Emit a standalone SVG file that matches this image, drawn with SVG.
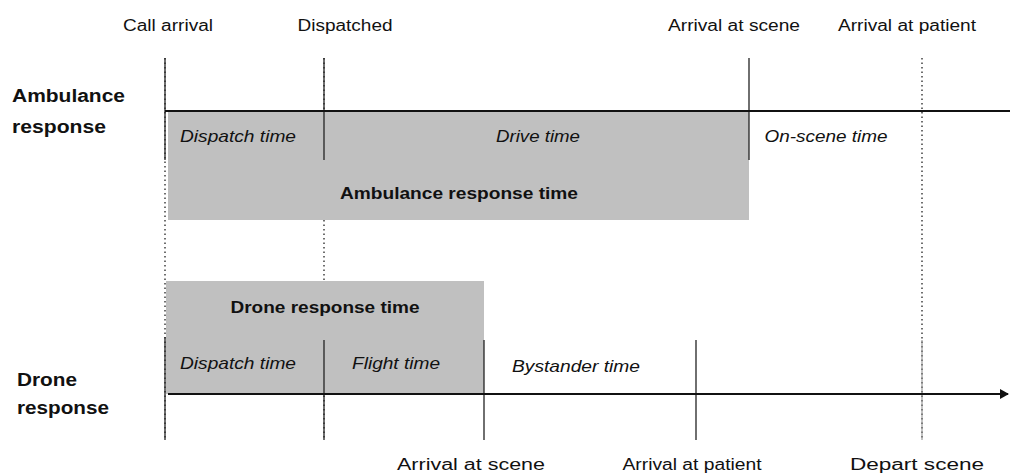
<svg xmlns="http://www.w3.org/2000/svg" width="1010" height="475" viewBox="0 0 1010 475">
<style>
.lbl{font-family:"Liberation Sans",Arial,sans-serif;font-size:16px;fill:#111}
.row{font-family:"Liberation Sans",Arial,sans-serif;font-size:18px;font-weight:bold;fill:#111}
.it{font-family:"Liberation Sans",Arial,sans-serif;font-size:17px;font-style:italic;fill:#111}
.bold{font-family:"Liberation Sans",Arial,sans-serif;font-size:17px;font-weight:bold;fill:#111}
.box{fill:#c0c0c0}
.solid{stroke:#222;stroke-width:1.3;fill:none}
.dot{stroke:#222;stroke-width:1.3;stroke-dasharray:1.5 3;fill:none}
.axis{stroke:#111;stroke-width:2;fill:none}
</style>
<defs>
<marker id="arr" markerWidth="9" markerHeight="10" refX="8" refY="5" orient="auto" markerUnits="userSpaceOnUse">
<path d="M0,0 L9,5 L0,10 z" fill="#111"/>
</marker>
</defs>
<rect width="1010" height="475" fill="#fff"/>
<g id="connectors">
<line class="dot" x1="165" y1="58" x2="165" y2="440"/>
<line class="dot" x1="324" y1="58" x2="324" y2="440"/>
<line class="dot" x1="922" y1="58" x2="922" y2="440"/>
</g>
<g id="ambulance-box"><rect class="box" x="168" y="112" width="581" height="108"/>
<text class="bold" x="459" y="199" text-anchor="middle" textLength="238" lengthAdjust="spacingAndGlyphs">Ambulance response time</text></g>
<g id="drone-box"><rect class="box" x="166" y="281" width="318" height="113"/>
<text class="bold" x="325" y="313" text-anchor="middle" textLength="189" lengthAdjust="spacingAndGlyphs">Drone response time</text></g>
<g id="lines">
<line class="solid" x1="165" y1="58" x2="165" y2="160"/>
<line class="solid" x1="324" y1="58" x2="324" y2="160"/>
<line class="solid" x1="749" y1="58" x2="749" y2="160"/>
<line class="solid" x1="165" y1="337" x2="165" y2="440"/>
<line class="solid" x1="324" y1="340" x2="324" y2="440"/>
<line class="solid" x1="484" y1="340" x2="484" y2="440"/>
<line class="solid" x1="696" y1="340" x2="696" y2="440"/>
<line x1="922" y1="340" x2="922" y2="440" stroke="#888" stroke-width="1"/>
<line class="axis" x1="165" y1="111" x2="1010" y2="111"/>
<line class="axis" x1="168" y1="394" x2="1008" y2="394" marker-end="url(#arr)"/>
</g>
<g id="top-labels">
<text class="lbl" x="168" y="31" text-anchor="middle" textLength="90" lengthAdjust="spacingAndGlyphs">Call arrival</text>
<text class="lbl" x="345" y="31" text-anchor="middle" textLength="95" lengthAdjust="spacingAndGlyphs">Dispatched</text>
<text class="lbl" x="734" y="31" text-anchor="middle" textLength="132" lengthAdjust="spacingAndGlyphs">Arrival at scene</text>
<text class="lbl" x="907" y="31" text-anchor="middle" textLength="138" lengthAdjust="spacingAndGlyphs">Arrival at patient</text>
</g>
<g id="bottom-labels">
<text class="lbl" x="471" y="470" text-anchor="middle" textLength="148" lengthAdjust="spacingAndGlyphs">Arrival at scene</text>
<text class="lbl" x="692" y="470" text-anchor="middle" textLength="139" lengthAdjust="spacingAndGlyphs">Arrival at patient</text>
<text class="lbl" x="917" y="470" text-anchor="middle" textLength="134" lengthAdjust="spacingAndGlyphs">Depart scene</text>
</g>
<g id="row-labels">
<text class="row" x="12" y="102" textLength="113" lengthAdjust="spacingAndGlyphs">Ambulance</text>
<text class="row" x="12" y="133" textLength="94" lengthAdjust="spacingAndGlyphs">response</text>
<text class="row" x="17" y="386" textLength="60" lengthAdjust="spacingAndGlyphs">Drone</text>
<text class="row" x="17" y="414" textLength="92" lengthAdjust="spacingAndGlyphs">response</text>
</g>
<g id="segments">
<text class="it" x="238" y="142" text-anchor="middle" textLength="116" lengthAdjust="spacingAndGlyphs">Dispatch time</text>
<text class="it" x="538" y="142" text-anchor="middle" textLength="84" lengthAdjust="spacingAndGlyphs">Drive time</text>
<text class="it" x="826" y="142" text-anchor="middle" textLength="123" lengthAdjust="spacingAndGlyphs">On-scene time</text>
<text class="it" x="238" y="369" text-anchor="middle" textLength="116" lengthAdjust="spacingAndGlyphs">Dispatch time</text>
<text class="it" x="396" y="369" text-anchor="middle" textLength="88" lengthAdjust="spacingAndGlyphs">Flight time</text>
<text class="it" x="576" y="372" text-anchor="middle" textLength="128" lengthAdjust="spacingAndGlyphs">Bystander time</text>
</g>
</svg>
